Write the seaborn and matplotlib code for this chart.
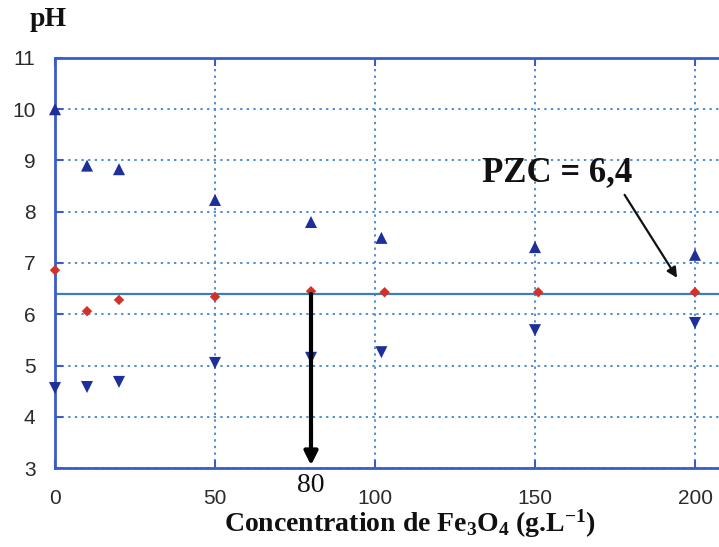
import numpy as np
import pandas as pd
import matplotlib
matplotlib.use("Agg")
import matplotlib.pyplot as plt
import seaborn as sns

# Data
conc = [0, 10, 20, 50, 80, 102, 150, 200]
conc_red = [0, 10, 20, 50, 80, 103, 151, 200]
ph_up = [10.0, 8.9, 8.83, 8.23, 7.8, 7.49, 7.31, 7.16]
ph_final = [6.86, 6.06, 6.28, 6.34, 6.45, 6.43, 6.43, 6.43]
ph_down = [4.56, 4.58, 4.68, 5.05, 5.15, 5.26, 5.69, 5.83]
pzc = 6.4
pzc_conc = 80
x_ticks = [0, 50, 100, 150, 200]
y_ticks = [3, 4, 5, 6, 7, 8, 9, 10, 11]

df_up = pd.DataFrame({"x": conc, "y": ph_up})
df_fin = pd.DataFrame({"x": conc_red, "y": ph_final})
df_dn = pd.DataFrame({"x": conc, "y": ph_down})

sns.set_style("white")
plt.rcParams['font.family'] = ['Liberation Sans', 'DejaVu Sans']
plt.rcParams['mathtext.fontset'] = 'custom'
plt.rcParams['mathtext.rm'] = 'Liberation Serif:bold'
plt.rcParams['mathtext.it'] = 'Liberation Serif:bold'
plt.rcParams['mathtext.bf'] = 'Liberation Serif:bold'

fig = plt.figure(figsize=(7.19, 5.47), dpi=100)
ax = fig.add_axes([0.0765, 0.1444, 0.9235, 0.7496])

blue_sp = "#3a5cc8"
grid_c = "#4f8fd0"

ax.set_xlim(0, 207.5)
ax.set_ylim(3, 11)
ax.set_xticks(x_ticks)
ax.set_yticks(y_ticks)
ax.grid(True, linestyle=(0, (1.2, 2.2)), color=grid_c, linewidth=1.4, zorder=0)
ax.set_axisbelow(True)

ax.axhline(pzc, color="#3c7fb8", linewidth=1.6, zorder=2)

sns.scatterplot(data=df_up, x="x", y="y", marker="^", color="#1e2f9a",
                s=75, edgecolor="none", legend=False, ax=ax, zorder=4, clip_on=False)
sns.scatterplot(data=df_dn, x="x", y="y", marker="v", color="#1e2f9a",
                s=75, edgecolor="none", legend=False, ax=ax, zorder=4, clip_on=False)
sns.scatterplot(data=df_fin, x="x", y="y", marker="D", color="#d2322a",
                s=28, edgecolor="none", legend=False, ax=ax, zorder=4, clip_on=False)

for side in ["left", "top", "bottom"]:
    ax.spines[side].set_color(blue_sp)
    ax.spines[side].set_linewidth(2)
ax.spines["right"].set_visible(False)

ax.tick_params(axis="both", direction="in", length=6, width=1.5, color=blue_sp,
               labelsize=15, labelcolor="#2a2a2a", top=True, left=True, bottom=True)
ax.tick_params(axis="x", pad=15)
ax.tick_params(axis="y", pad=14)

ax.set_xlabel("")
ax.set_ylabel("")

# Arrow at x=80 down to the axis
ax.annotate("", xy=(pzc_conc, 3.0), xytext=(pzc_conc, 6.45),
            arrowprops=dict(arrowstyle="-|>", color="black", lw=3,
                            mutation_scale=20), zorder=5)
ax.text(pzc_conc, 2.65, "80", ha="center", va="center", fontsize=20,
        family="Liberation Serif", color="#111111", clip_on=False)

ax.text(157, 8.76, "PZC = 6,4", ha="center", va="center", fontsize=25,
        fontweight="bold", family="Liberation Serif", color="#111111", zorder=5)
ax.annotate("", xy=(194.4, 6.71), xytext=(178, 8.33),
            arrowprops=dict(arrowstyle="-|>", color="#111111", lw=1.6,
                            mutation_scale=15, shrinkA=0, shrinkB=0),
            zorder=5)

fig.text(0.067, 0.965, "pH", ha="center", va="center", fontsize=20,
         fontweight="bold", family="Liberation Serif", color="#111111")
fig.text(0.57, 0.042, "Concentration de Fe$_3$O$_4$ (g.L$^{-1}$)", ha="center",
         va="center", fontsize=20, fontweight="bold", family="Liberation Serif",
         color="#111111")

fig.savefig("out.png", dpi=100)
